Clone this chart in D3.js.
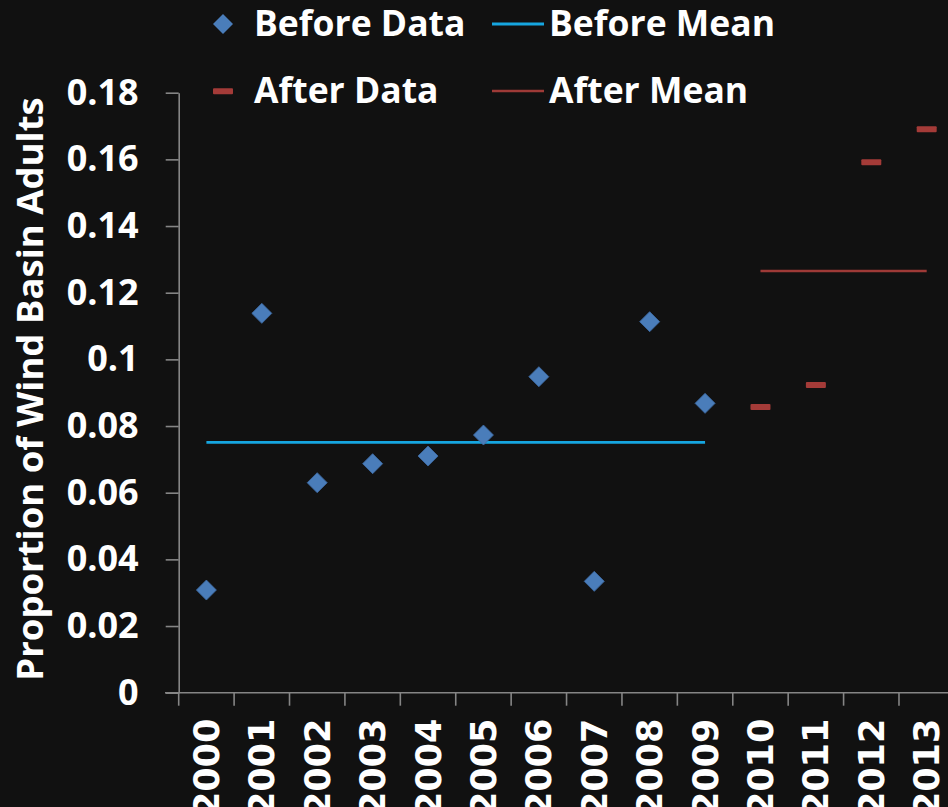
<!DOCTYPE html>
<html>
<head>
<meta charset="utf-8">
<script src="https://cdn.jsdelivr.net/npm/d3@7/dist/d3.min.js"></script>
<style>
  html, body { margin: 0; padding: 0; background: #111111; }
  svg { display: block; }
</style>
</head>
<body>
<svg id="chart" width="948" height="807"></svg>
<script>
// Yearly proportion of Wind Basin adults, before and after 2010
const years = ["2000","2001","2002","2003","2004","2005","2006","2007","2008","2009","2010","2011","2012","2013"];
const beforeYears = ["2000","2001","2002","2003","2004","2005","2006","2007","2008","2009"];
const beforeValues = [0.0308, 0.1138, 0.0630, 0.0687, 0.0710, 0.0773, 0.0948, 0.0334, 0.1113, 0.0868];
const afterYears = ["2010","2011","2012","2013"];
const afterValues = [0.0857, 0.0923, 0.1591, 0.1690];
const yTicks = [0, 0.02, 0.04, 0.06, 0.08, 0.1, 0.12, 0.14, 0.16, 0.18];
const seriesNames = ["Before Data", "Before Mean", "After Data", "After Mean"];
const yTitle = "Proportion of Wind Basin Adults";

const beforeMean = d3.mean(beforeValues);
const afterMean = d3.mean(afterValues);

const colors = {
  before: "#4a7dba",
  beforeMean: "#16a6e0",
  after: "#a43b38",
  afterMean: "#9e3a37",
  axis: "#858585",
  text: "#ffffff"
};

const svg = d3.select("#chart");
svg.append("rect").attr("width", 948).attr("height", 807).attr("fill", "#111111");

const x = d3.scaleBand().domain(years).range([178.7, 954.4]).padding(0);
const y = d3.scaleLinear().domain([0, 0.18]).range([692.7, 92.7]);
const cx = d => x(d) + x.bandwidth() / 2;

// Y axis
const yAxis = svg.append("g")
  .attr("transform", "translate(178.7,0)")
  .call(d3.axisLeft(y).tickValues(yTicks).tickSize(13).tickSizeOuter(0).tickPadding(27)
    .tickFormat(d => String(+d.toFixed(2))));
yAxis.selectAll("path, line").attr("stroke", colors.axis).attr("stroke-width", 1.6);
yAxis.selectAll("text")
  .attr("fill", colors.text)
  .style("font-family", "'Open Sans', sans-serif")
  .style("font-weight", "700")
  .style("font-size", "36px");

// X axis
const xAxis = svg.append("g")
  .attr("transform", "translate(0,692.7)")
  .call(d3.axisBottom(x).tickValues(years).tickSize(13).tickSizeOuter(0));
xAxis.select(".domain").remove();
xAxis.append("line")
  .attr("x1", 165).attr("x2", 948).attr("y1", 0).attr("y2", 0)
  .attr("stroke", colors.axis).attr("stroke-width", 1.6);
// ticks on band boundaries
xAxis.selectAll(".tick line")
  .attr("x1", -x.bandwidth() / 2).attr("x2", -x.bandwidth() / 2)
  .attr("stroke", colors.axis).attr("stroke-width", 1.6);
xAxis.selectAll(".tick text")
  .attr("fill", colors.text)
  .attr("transform", "rotate(-90)")
  .attr("x", -26).attr("y", 0).attr("dy", "0.36em")
  .attr("text-anchor", "end")
  .style("font-family", "'DejaVu Sans', sans-serif")
  .style("font-weight", "700")
  .style("font-size", "35px");

// Y axis title
svg.append("text")
  .attr("transform", "translate(43,389) rotate(-90)")
  .attr("text-anchor", "middle")
  .attr("fill", colors.text)
  .style("font-family", "'Open Sans', sans-serif")
  .style("font-weight", "700")
  .style("font-size", "36.5px")
  .text(yTitle);

// Before mean line
svg.append("path")
  .datum(beforeYears)
  .attr("d", d3.line().x(d => cx(d)).y(() => y(beforeMean)))
  .attr("fill", "none")
  .attr("stroke", colors.beforeMean)
  .attr("stroke-width", 2.8);

// After mean line
svg.append("path")
  .datum(afterYears)
  .attr("d", d3.line().x(d => cx(d)).y(() => y(afterMean)))
  .attr("fill", "none")
  .attr("stroke", colors.afterMean)
  .attr("stroke-width", 2.6);

// Before data: diamonds
const diamond = d3.symbol().type(d3.symbolSquare).size(200);
svg.append("g").selectAll("path")
  .data(beforeYears.map((yr, i) => ({ yr, v: beforeValues[i] })))
  .join("path")
  .attr("d", diamond)
  .attr("transform", d => `translate(${cx(d.yr)},${y(d.v)}) rotate(45)`)
  .attr("fill", colors.before)
  .attr("stroke", "#3d6aa3")
  .attr("stroke-width", 0.8);

// After data: short dashes
svg.append("g").selectAll("rect")
  .data(afterYears.map((yr, i) => ({ yr, v: afterValues[i] })))
  .join("rect")
  .attr("x", d => cx(d.yr) - 10)
  .attr("y", d => y(d.v) - 3)
  .attr("width", 20).attr("height", 6)
  .attr("rx", 1)
  .attr("fill", colors.after);

// Legend
const legend = svg.append("g");
const legendText = (g, tx, ty, label) => g.append("text")
  .attr("x", tx).attr("y", ty)
  .attr("fill", colors.text)
  .style("font-family", "'Open Sans', sans-serif")
  .style("font-weight", "700")
  .style("font-size", "35.5px")
  .text(label);

// row 1
legend.append("path")
  .attr("d", diamond)
  .attr("transform", "translate(223,24) rotate(45)")
  .attr("fill", colors.before);
legendText(legend, 254, 36, seriesNames[0]);
legend.append("line")
  .attr("x1", 492).attr("x2", 544).attr("y1", 24).attr("y2", 24)
  .attr("stroke", colors.beforeMean).attr("stroke-width", 2.8);
legendText(legend, 549, 36, seriesNames[1]);

// row 2
legend.append("rect")
  .attr("x", 213).attr("y", 88.3).attr("width", 20).attr("height", 6).attr("rx", 1)
  .attr("fill", colors.after);
legendText(legend, 254, 103, seriesNames[2]);
legend.append("line")
  .attr("x1", 492).attr("x2", 544).attr("y1", 91).attr("y2", 91)
  .attr("stroke", colors.afterMean).attr("stroke-width", 2.6);
legendText(legend, 549, 103, seriesNames[3]);
</script>
</body>
</html>
